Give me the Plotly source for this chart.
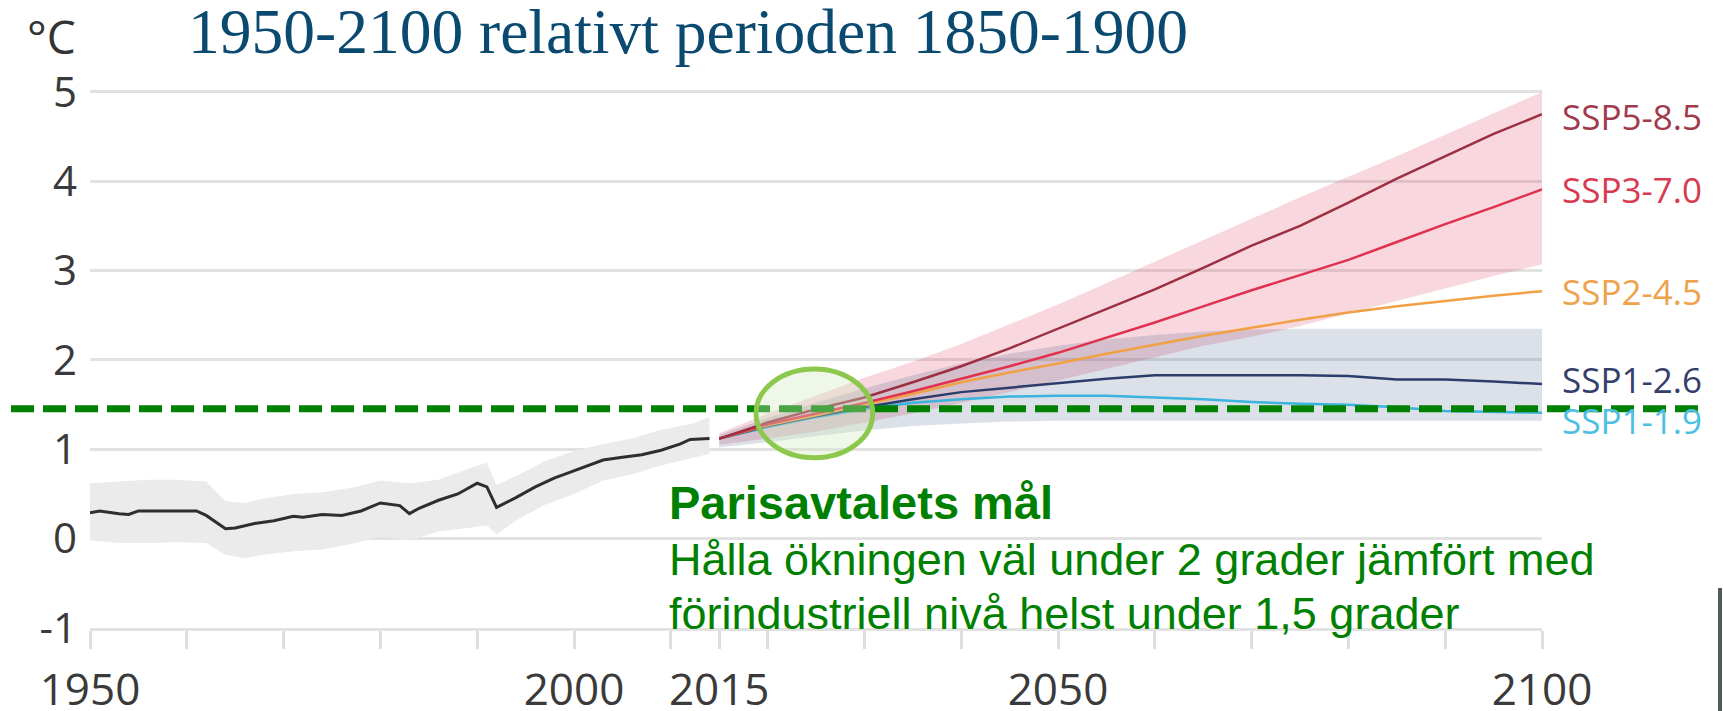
import plotly.graph_objects as go

# ---------------- data ----------------
hist_years = [1950, 1951, 1953, 1954, 1955, 1958, 1961, 1962, 1963, 1964, 1965, 1967, 1969,
              1971, 1972, 1974, 1976, 1978, 1980, 1982, 1983, 1984, 1986, 1988, 1990, 1991,
              1992, 1994, 1996, 1998, 1999, 2001, 2003, 2005, 2007, 2009, 2011, 2012, 2014]
hist_temp = [0.29, 0.31, 0.28, 0.27, 0.31, 0.31, 0.31, 0.26, 0.18, 0.11, 0.12, 0.17, 0.20,
             0.25, 0.24, 0.27, 0.26, 0.31, 0.40, 0.37, 0.28, 0.34, 0.43, 0.50, 0.62, 0.58,
             0.35, 0.46, 0.58, 0.68, 0.72, 0.80, 0.88, 0.91, 0.94, 0.99, 1.06, 1.11, 1.12]

band_years = [1950, 1953, 1956, 1959, 1962, 1964, 1966, 1968, 1971, 1974, 1977, 1980, 1983,
              1986, 1989, 1991, 1992, 1994, 1997, 2000, 2003, 2006, 2009, 2012, 2014]
band_upper = [0.62, 0.64, 0.66, 0.66, 0.64, 0.42, 0.40, 0.45, 0.50, 0.52, 0.57, 0.65, 0.62,
              0.66, 0.78, 0.85, 0.60, 0.70, 0.87, 0.98, 1.06, 1.12, 1.22, 1.28, 1.36]
band_lower = [-0.02, -0.05, -0.05, -0.04, -0.05, -0.18, -0.22, -0.18, -0.14, -0.12, -0.06,
              0.02, -0.02, 0.08, 0.12, 0.15, 0.05, 0.20, 0.38, 0.50, 0.65, 0.72, 0.82, 0.90, 0.95]

proj_years = [2015, 2020, 2025, 2030, 2035, 2040, 2045, 2050, 2055, 2060,
              2065, 2070, 2075, 2080, 2085, 2090, 2095, 2100]
ssp585 = [1.12, 1.30, 1.45, 1.58, 1.75, 1.93, 2.13, 2.35, 2.57, 2.79,
          3.03, 3.28, 3.50, 3.76, 4.03, 4.28, 4.53, 4.75]
ssp370 = [1.12, 1.28, 1.40, 1.52, 1.65, 1.79, 1.93, 2.08, 2.25, 2.42,
          2.60, 2.78, 2.95, 3.12, 3.32, 3.52, 3.71, 3.91]
ssp245 = [1.12, 1.27, 1.38, 1.50, 1.62, 1.75, 1.86, 1.96, 2.07, 2.17,
          2.27, 2.36, 2.45, 2.53, 2.60, 2.66, 2.72, 2.77]
ssp126 = [1.12, 1.26, 1.37, 1.47, 1.56, 1.64, 1.69, 1.74, 1.79, 1.83,
          1.83, 1.83, 1.83, 1.82, 1.78, 1.78, 1.76, 1.73]
ssp119 = [1.12, 1.25, 1.36, 1.45, 1.52, 1.56, 1.59, 1.60, 1.60, 1.58,
          1.56, 1.53, 1.51, 1.50, 1.47, 1.43, 1.42, 1.41]

high_upper = [1.18, 1.40, 1.60, 1.80, 1.98, 2.18, 2.40, 2.62, 2.86, 3.10,
              3.34, 3.58, 3.82, 4.05, 4.28, 4.52, 4.76, 5.00]
high_lower = [1.05, 1.12, 1.20, 1.30, 1.40, 1.52, 1.64, 1.77, 1.90, 2.03,
              2.16, 2.26, 2.38, 2.52, 2.66, 2.80, 2.94, 3.07]
low_upper = [1.16, 1.35, 1.52, 1.68, 1.83, 1.96, 2.07, 2.16, 2.23, 2.28,
             2.32, 2.34, 2.35, 2.35, 2.35, 2.35, 2.35, 2.35]
low_lower = [1.02, 1.08, 1.15, 1.21, 1.26, 1.29, 1.31, 1.32, 1.32, 1.32,
             1.32, 1.32, 1.32, 1.32, 1.32, 1.32, 1.32, 1.32]

scenario_names = ["SSP5-8.5", "SSP3-7.0", "SSP2-4.5", "SSP1-2.6", "SSP1-1.9"]
paris_level = 1.455

x_ticks = [1950, 1960, 1970, 1980, 1990, 2000, 2010, 2015, 2020, 2030, 2040,
           2050, 2060, 2070, 2080, 2090, 2100]
x_tick_labels = ["1950", "", "", "", "", "2000", "", "2015", "", "", "",
                 "2050", "", "", "", "", "2100"]
y_ticks = [-1, 0, 1, 2, 3, 4, 5]
y_tick_labels = ["-1", "0", "1", "2", "3", "4", "5"]

# ---------------- styles ----------------
line_colors = ["#9c2f42", "#e0314f", "#f0a045", "#2c3d6b", "#3ab4dd"]
label_colors = ["#a03a4c", "#d93a52", "#eea24c", "#34406a", "#4dbfe2"]
label_y = [4.73, 3.91, 2.77, 1.78, 1.32]
SANS = "Open Sans, DejaVu Sans, sans-serif"
ARIAL = "Liberation Sans, Arial, sans-serif"
GREEN = "#008000"

fig = go.Figure()

def band(xs, lo, hi, color):
    fig.add_trace(go.Scatter(x=xs, y=lo, mode="lines", line=dict(width=0),
                             showlegend=False, hoverinfo="skip"))
    fig.add_trace(go.Scatter(x=xs, y=hi, mode="lines", line=dict(width=0),
                             fill="tonexty", fillcolor=color,
                             showlegend=False, hoverinfo="skip"))

band(band_years, band_lower, band_upper, "#ebebeb")
band(proj_years, high_lower, high_upper, "rgba(220,60,90,0.2)")
band(proj_years, low_lower, low_upper, "rgba(40,60,110,0.16)")

series = [ssp585, ssp370, ssp245, ssp126, ssp119]
for vals, col, name in reversed(list(zip(series, line_colors, scenario_names))):
    fig.add_trace(go.Scatter(x=proj_years, y=vals, mode="lines", name=name,
                             line=dict(color=col, width=2.5), showlegend=False))

fig.add_trace(go.Scatter(x=hist_years, y=hist_temp, mode="lines", name="Historisk",
                         line=dict(color="#2e2e2e", width=3), showlegend=False))

# scenario labels
for name, col, yv in zip(scenario_names, label_colors, label_y):
    fig.add_annotation(x=1.0124, xref="paper", y=yv, yref="y", text=name,
                       showarrow=False, xanchor="left", yanchor="middle",
                       font=dict(family=SANS, size=35, color=col))

# Paris target dashed line and circle
fig.add_shape(type="line", xref="paper", yref="y", x0=-0.0544, x1=1.1074,
              y0=paris_level, y1=paris_level, layer="above",
              line=dict(color=GREEN, width=7, dash="23px,9px"))
fig.add_shape(type="circle", xref="x", yref="y", x0=2018.8, x1=2030.85,
              y0=0.905, y1=1.898, layer="above",
              fillcolor="rgba(209,232,192,0.35)",
              line=dict(color="#8cc84b", width=5))

# odd vertical bar at right edge
fig.add_shape(type="line", xref="paper", yref="paper", x0=1.1226, x1=1.1226,
              y0=0.0734, y1=-0.16, line=dict(color="#4d5c58", width=4))

# texts
fig.add_annotation(x=-0.0262, xref="paper", y=1.086, yref="paper", text="°C",
                   showarrow=False, xanchor="center", yanchor="middle",
                   font=dict(family=SANS, size=46, color="#333333"))
fig.add_annotation(x=0.0660, xref="paper", y=1.095, yref="paper",
                   text="1950-2100 relativt perioden 1850-1900",
                   showarrow=False, xanchor="left", yanchor="middle",
                   font=dict(family="Liberation Serif, Times New Roman, serif", size=63.5,
                             color="#0b4a70"))
fig.add_annotation(x=0.3974, xref="paper", y=0.2294, yref="paper",
                   text="<b>Parisavtalets mål</b>", showarrow=False,
                   xanchor="left", yanchor="middle",
                   font=dict(family=ARIAL, size=47, color=GREEN))
fig.add_annotation(x=0.3974, xref="paper", y=0.1248, yref="paper",
                   text="Hålla ökningen väl under 2 grader jämfört med", showarrow=False,
                   xanchor="left", yanchor="middle",
                   font=dict(family=ARIAL, size=45, color=GREEN))
fig.add_annotation(x=0.3974, xref="paper", y=0.0257, yref="paper",
                   text="förindustriell nivå helst under 1,5 grader", showarrow=False,
                   xanchor="left", yanchor="middle",
                   font=dict(family=ARIAL, size=45, color=GREEN))

fig.update_layout(
    width=1723, height=711,
    margin=dict(l=90, r=181, t=83, b=83, autoexpand=False),
    paper_bgcolor="white", plot_bgcolor="white",
    showlegend=False,
    xaxis=dict(range=[1950, 2100], tickmode="array", tickvals=x_ticks,
               ticktext=x_tick_labels, ticks="outside", ticklen=18, tickwidth=2.5,
               tickcolor="#dedede", showgrid=False, zeroline=False,
               showline=True, linecolor="#e2e2e2", linewidth=2.5, automargin=False,
               tickfont=dict(family=SANS, size=44, color="#3a3a3a"),
               ticklabelstandoff=3),
    yaxis=dict(range=[-1, 5.1], tickmode="array", tickvals=y_ticks,
               ticktext=y_tick_labels, showgrid=True, gridcolor="#e2e2e2",
               gridwidth=2.5, zeroline=False, ticks="", automargin=False,
               tickfont=dict(family=SANS, size=42, color="#3a3a3a"),
               ticklabelstandoff=12),
)

fig.write_html("out.html", config={"displayModeBar": False},
               post_script="document.body.style.margin='0';document.body.style.overflow='hidden';")
